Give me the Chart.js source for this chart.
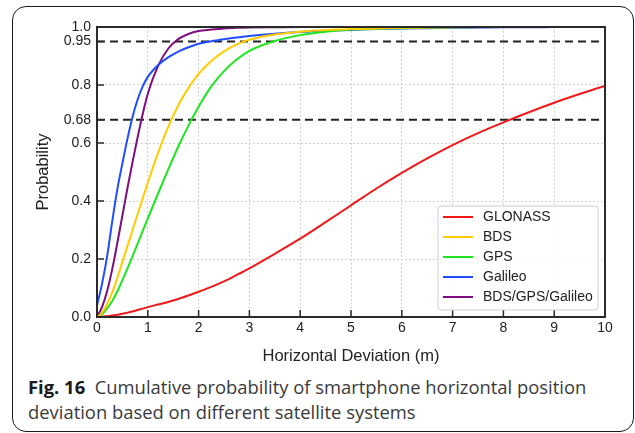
<!DOCTYPE html>
<html>
<head>
<meta charset="utf-8">
<script src="https://cdn.jsdelivr.net/npm/chart.js@4"></script>
<style>
  html, body { margin: 0; padding: 0; background: #fff; }
  body { width: 635px; height: 433px; position: relative; overflow: hidden; }
  .card {
    position: absolute; left: 12px; top: 6px; width: 622px; height: 426px;
    box-sizing: border-box; border: 1.5px solid #1a1a1a; border-radius: 14px;
  }
  .chart-wrap { position: absolute; left: 0; top: 0; width: 635px; height: 370px; }
  .caption {
    position: absolute; left: 28px; top: 374px; white-space: nowrap;
    font-family: "Open Sans", "Noto Sans", sans-serif; font-size: 18.4px; line-height: 25px;
    color: #3a3a3a;
  }
  .caption b { color: #1a1a1a; }
</style>
</head>
<body>
<div class="card"></div>
<div class="chart-wrap"><canvas id="cdfChart" width="635" height="370"></canvas></div>
<div class="caption"><b>Fig. 16</b>&nbsp; Cumulative probability of smartphone horizontal position<br>deviation based on different satellite systems</div>

<script>
// horizontal deviation (m) where the curves were read
const xs = [0, 0.1, 0.2, 0.3, 0.4, 0.5, 0.6, 0.7, 0.8, 0.9, 1.0,
  1.2, 1.4, 1.6, 1.8, 2.0, 2.25, 2.5, 2.75, 3,
  3.5, 4, 4.5, 5, 5.5, 6, 6.5, 7, 7.5, 8, 8.5, 9, 9.5, 10];

const glonass = [0, 0.001, 0.003, 0.005, 0.008, 0.011, 0.015, 0.019, 0.024, 0.029, 0.034,
  0.043, 0.052, 0.062, 0.074, 0.087, 0.104, 0.123, 0.145, 0.168,
  0.218, 0.27, 0.327, 0.385, 0.443, 0.497, 0.547, 0.593, 0.634, 0.671, 0.706, 0.739, 0.769, 0.797];
const bds = [0, 0.015, 0.045, 0.085, 0.135, 0.19, 0.245, 0.3, 0.355, 0.41, 0.463,
  0.565, 0.655, 0.73, 0.79, 0.838, 0.883, 0.916, 0.94, 0.956,
  0.974, 0.984, 0.99, 0.993, 0.995, 0.997, 0.998, 0.999, 1, 1, 1, 1, 1, 1];
const gps = [0, 0.01, 0.03, 0.055, 0.088, 0.127, 0.168, 0.21, 0.253, 0.297, 0.34,
  0.425, 0.508, 0.588, 0.66, 0.725, 0.795, 0.848, 0.888, 0.918,
  0.952, 0.972, 0.984, 0.991, 0.994, 0.996, 0.998, 0.999, 1, 1, 1, 1, 1, 1];
const galileo = [0.04, 0.115, 0.21, 0.33, 0.44, 0.53, 0.615, 0.69, 0.75, 0.795, 0.828,
  0.868, 0.895, 0.915, 0.93, 0.942, 0.951, 0.958, 0.964, 0.969,
  0.977, 0.983, 0.987, 0.99, 0.993, 0.995, 0.996, 0.997, 0.998, 0.999, 0.999, 1, 1, 1];
const combined = [0, 0.035, 0.09, 0.165, 0.255, 0.35, 0.445, 0.535, 0.62, 0.70, 0.77,
  0.865, 0.925, 0.958, 0.976, 0.986, 0.991, 0.995, 0.997, 0.998,
  0.999, 1, 1, 1, 1, 1, 1, 1, 1, 1, 1, 1, 1, 1];

const seriesNames = ["GLONASS", "BDS", "GPS", "Galileo", "BDS/GPS/Galileo"];
const seriesColors = ["#f01818", "#ffcc00", "#1ee61e", "#1f4dff", "#7d0f7d"];
const seriesValues = [glonass, bds, gps, galileo, combined];

const refLevels = [0.68, 0.95];
const xTicks = [0, 1, 2, 3, 4, 5, 6, 7, 8, 9, 10];
const yTicks = [0, 0.2, 0.4, 0.6, 0.68, 0.8, 0.95, 1.0];
const yTickLabels = ["0.0", "0.2", "0.4", "0.6", "0.68", "0.8", "0.95", "1.0"];

const FONT = "'Liberation Sans', Arial, sans-serif";
const textColor = "#222";

const datasets = seriesNames.map((name, i) => ({
  label: name,
  data: xs.map((x, j) => ({ x: x, y: seriesValues[i][j] })),
  borderColor: seriesColors[i],
  borderWidth: 2,
  pointRadius: 0,
  cubicInterpolationMode: "monotone",
  order: 0
}));

refLevels.forEach(level => {
  datasets.push({
    label: "ref" + level,
    isRef: true,
    data: [{ x: xTicks[0], y: level }, { x: xTicks[xTicks.length - 1], y: level }],
    borderColor: "#222",
    borderWidth: 2,
    borderDash: [8, 5],
    pointRadius: 0,
    order: 1
  });
});

// frame, inward ticks and the legend box inside the plot
const framePlugin = {
  id: "frame",
  afterDraw(chart) {
    const { ctx, chartArea: a, scales } = chart;
    ctx.save();
    ctx.strokeStyle = "#2a2a2a";
    ctx.lineWidth = 1.5;
    ctx.beginPath();
    scales.x.ticks.forEach(t => {
      const px = scales.x.getPixelForValue(t.value);
      ctx.moveTo(px, a.bottom);
      ctx.lineTo(px, a.bottom - 7);
    });
    scales.y.ticks.forEach(t => {
      const py = scales.y.getPixelForValue(t.value);
      ctx.moveTo(a.left, py);
      ctx.lineTo(a.left + 7, py);
    });
    ctx.stroke();
    ctx.lineWidth = 2;
    ctx.strokeRect(a.left, a.top, a.right - a.left, a.bottom - a.top);

    // legend
    const items = chart.data.datasets.filter(d => !d.isRef);
    const w = 160, rowH = 20, h = items.length * rowH + 4;
    const bx = a.right - 7 - w, by = a.bottom - 7 - h;
    ctx.fillStyle = "rgba(255,255,255,0.85)";
    ctx.strokeStyle = "#cfcfcf";
    ctx.lineWidth = 1;
    ctx.beginPath();
    ctx.roundRect(bx, by, w, h, 3);
    ctx.fill();
    ctx.stroke();
    ctx.font = "14px " + FONT;
    ctx.textBaseline = "middle";
    items.forEach((d, i) => {
      const cy = by + 11 + i * rowH;
      ctx.strokeStyle = d.borderColor;
      ctx.lineWidth = 2;
      ctx.beginPath();
      ctx.moveTo(bx + 5, cy);
      ctx.lineTo(bx + 35, cy);
      ctx.stroke();
      ctx.fillStyle = textColor;
      ctx.fillText(d.label, bx + 45, cy);
    });
    ctx.restore();
  }
};

const gridColor = (ctx) => {
  const v = ctx.tick ? ctx.tick.value : null;
  return refLevels.includes(v) ? "rgba(0,0,0,0)" : "#c4c4c4";
};

new Chart(document.getElementById("cdfChart"), {
  type: "line",
  data: { datasets: datasets },
  options: {
    responsive: false,
    animation: false,
    layout: { padding: { top: 27, right: 30, left: 0, bottom: 0 } },
    plugins: {
      legend: { display: false },
      tooltip: { enabled: false }
    },
    scales: {
      x: {
        type: "linear",
        min: 0,
        max: 10,
        afterBuildTicks: scale => { scale.ticks = xTicks.map(v => ({ value: v })); },
        afterFit: scale => { scale.height = 53; },
        ticks: { color: textColor, font: { family: FONT, size: 14 }, padding: 3, maxRotation: 0 },
        grid: { color: gridColor, lineWidth: 1, drawTicks: false },
        border: { display: false, dash: [1.5, 2.5] },
        title: {
          display: true,
          text: "Horizontal Deviation (m)",
          color: textColor,
          font: { family: FONT, size: 16.5 },
          padding: { top: 0, bottom: 4 }
        }
      },
      y: {
        min: 0,
        max: 1,
        afterBuildTicks: scale => { scale.ticks = yTicks.map(v => ({ value: v })); },
        afterFit: scale => { scale.width = 97; },
        ticks: {
          color: textColor,
          font: { family: FONT, size: 14 },
          padding: 6,
          callback: (value, index) => yTickLabels[index]
        },
        grid: { color: gridColor, lineWidth: 1, drawTicks: false },
        border: { display: false, dash: [1.5, 2.5] },
        title: {
          display: true,
          text: "Probability",
          color: textColor,
          font: { family: FONT, size: 16.5 },
          padding: { top: 34, bottom: 0 }
        }
      }
    }
  },
  plugins: [framePlugin]
});
</script>
</body>
</html>
